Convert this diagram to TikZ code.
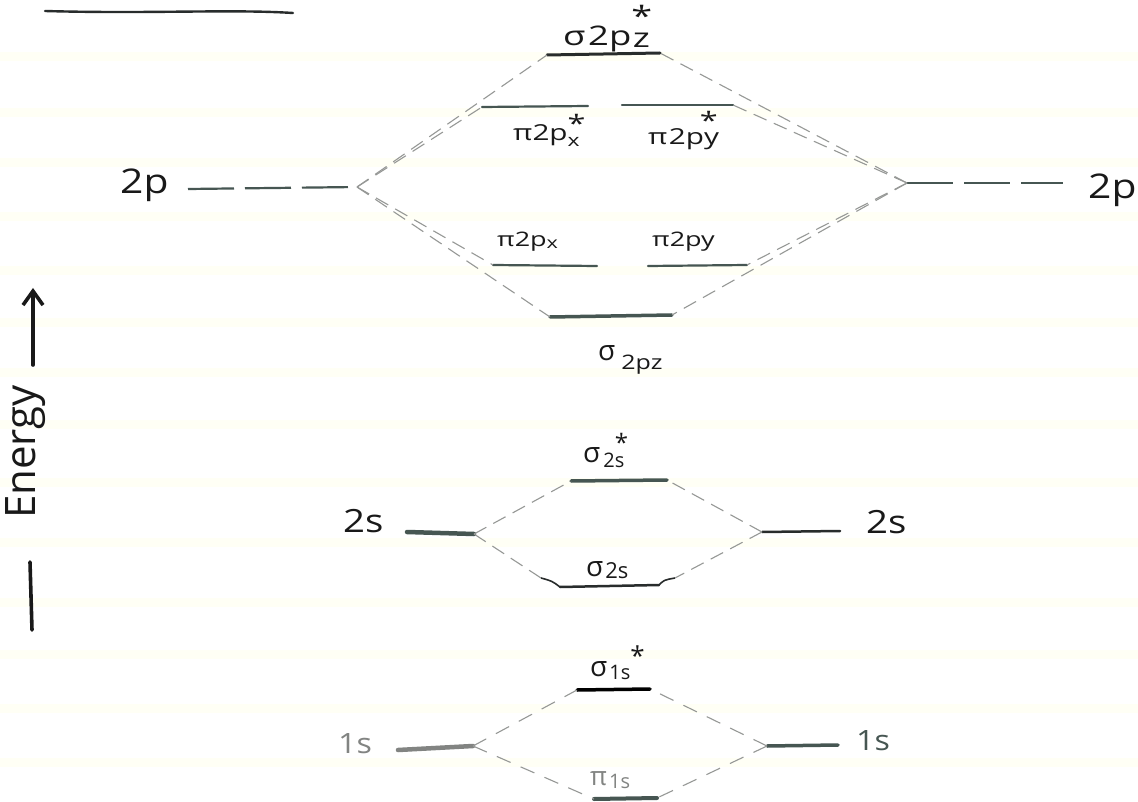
\documentclass[tikz,border=0pt]{standalone}
\usepackage{fontspec}
\setmainfont{Open Sans}
\usetikzlibrary{arrows.meta}
\definecolor{lev}{RGB}{70,86,82}
\definecolor{levdark}{RGB}{40,44,44}
\definecolor{conn}{RGB}{150,152,150}
\definecolor{txt}{RGB}{25,25,25}
\definecolor{txtgray}{RGB}{130,132,130}
\definecolor{band}{RGB}{255,255,245}
\newcommand{\myfs}[1]{\fontsize{#1}{#1}\selectfont}
\newcommand{\wid}[2]{\scalebox{#1}[1]{#2}}
\newcommand{\upstar}[2]{\rlap{\raisebox{#1}{\myfs{#2}*}}}
\begin{document}
\begin{tikzpicture}[x=1pt,y=-1pt,
  level/.style={line width=3pt,color=lev,line cap=round},
  thinlevel/.style={line width=2.2pt,color=lev,line cap=round},
  conn/.style={color=conn,line width=1.1pt,dash pattern=on 14pt off 8pt},
  atomline/.style={line width=2.2pt,color=lev,dash pattern=on 46pt off 11pt},
  lab/.style={inner sep=0pt,text=txt},
  graylab/.style={inner sep=0pt,text=txtgray},
  pen/.style={line width=3.6pt,color=txt,line cap=round},
]
\fill[white] (0,0) rectangle (1138,802);
\useasboundingbox (0,0) rectangle (1138,802);
\foreach \yy in {52,108,158,212,266,318,368,420,478,538,598,650,704,758}
  \fill[band] (0,\yy) rectangle (1138,\yy+9);

% title underline (text cut off above)
\coordinate (tA) at (45,11);
\coordinate (tB) at (293,13);
\draw[line width=2.4pt,color=levdark,line cap=round] (tA) .. controls (150,14) and (230,9) .. (tB);

% ---------- energy axis ----------
\coordinate (ebot) at (33,365);
\coordinate (etop) at (33,288);
\draw[pen,-{Straight Barb[length=14pt,width=20pt,line width=3.6pt]}] (ebot) -- (etop);
\node[lab,rotate=90,font=\myfs{42}] (energy) at (26,452) {Energy};
\coordinate (elA) at (30,562);
\coordinate (elB) at (32,630);
\draw[pen] (elA) -- (elB);

% ---------- 2p block ----------
\coordinate (J2pL) at (357,187);
\coordinate (J2pR) at (907,183);
\coordinate (a2pLs) at (188,189);
\coordinate (a2pRe) at (1063,183);
\node[lab,anchor=base west,font=\myfs{34}] (l2pL) at (120,194) {\wid{1.2}{2p}};
\node[lab,anchor=base west,font=\myfs{34}] (l2pR) at (1088,199) {\wid{1.2}{2p}};
\draw[atomline] (a2pLs) -- (J2pL);
\draw[atomline] (J2pR) -- (a2pRe);

\coordinate (szsL) at (547,55);  \coordinate (szsR) at (660,53);
\coordinate (pxsL) at (482,107); \coordinate (pxsR) at (588,106);
\coordinate (pysL) at (622,105); \coordinate (pysR) at (733,105);
\coordinate (pxL) at (493,265);  \coordinate (pxR) at (597,266);
\coordinate (pyL) at (648,266);  \coordinate (pyR) at (747,265);
\coordinate (szL) at (550,317);  \coordinate (szR) at (672,315);

\draw[level,color=levdark] (szsL) -- (szsR);
\draw[thinlevel] (pxsL) -- (pxsR);
\draw[thinlevel] (pysL) -- (pysR);
\draw[thinlevel] (pxL) -- (pxR);
\draw[thinlevel] (pyL) -- (pyR);
\draw[level,line width=3.5pt] (szL) -- (szR);

\draw[conn] (J2pL) -- (szsL);
\draw[conn] (J2pL) -- (pxsL);
\draw[conn] (J2pL) -- (pxL);
\draw[conn] (J2pL) -- (szL);
\draw[conn] (J2pR) -- (szsR);
\draw[conn] (J2pR) -- (pysR);
\draw[conn] (J2pR) -- (pyR);
\draw[conn] (J2pR) -- (szR);

% labels 2p block
\node[lab,anchor=base west] (lszs) at (563,46)
  {\wid{1.35}{\myfs{27}σ\hspace{2pt}2p\upstar{19pt}{28}\hspace{1pt}\raisebox{-2pt}{z}}};
\node[lab,anchor=base west] (lpxs) at (513,141)
  {\wid{1.35}{\myfs{22}π2p\upstar{8pt}{24}\raisebox{-6pt}{\myfs{17}x}}};
\node[lab,anchor=base west] (lpys) at (648,145)
  {\wid{1.35}{\myfs{22}π\hspace{1pt}2p\hspace{-3pt}\upstar{15pt}{24}\hspace{3pt}y}};
\node[lab,anchor=base west] (lpx) at (497,247)
  {\wid{1.35}{\myfs{20}π2p\raisebox{-2pt}{\myfs{16}x}}};
\node[lab,anchor=base west] (lpy) at (652,247)
  {\wid{1.35}{\myfs{20}π2py}};
\node[lab,anchor=base west] (lsz) at (598,360)
  {\myfs{28}σ\hspace{6pt}\raisebox{-9pt}{\wid{1.25}{\myfs{20}2pz}}};

% ---------- 2s block ----------
\coordinate (a2sLs) at (407,532); \coordinate (J2sL) at (474,534);
\coordinate (J2sR) at (762,532);  \coordinate (a2sRe) at (840,531);
\coordinate (ssL) at (571,481);   \coordinate (ssR) at (667,480);
\coordinate (sL) at (560,587);    \coordinate (sR) at (659,585);
\coordinate (hL) at (541,578);    \coordinate (hR) at (675,578);
\node[lab,anchor=base west,font=\myfs{32}] (l2sL) at (343,532) {\wid{1.2}{2s}};
\node[lab,anchor=base west,font=\myfs{32}] (l2sR) at (866,533) {\wid{1.2}{2s}};
\draw[level,line width=4.5pt] (a2sLs) -- (J2sL);
\draw[level,line width=2.5pt,color=levdark] (J2sR) -- (a2sRe);
\draw[level,line width=3.5pt] (ssL) -- (ssR);
\draw[level,line width=2.5pt,color=levdark] (sL) -- (sR);
\draw[line width=1.6pt,color=levdark] (hL) .. controls (552,581) .. (sL);
\draw[line width=1.6pt,color=levdark] (hR) .. controls (664,580) .. (sR);
\draw[conn] (J2sL) -- (ssL);
\draw[conn] (J2sL) -- (hL);
\draw[conn] (J2sR) -- (ssR);
\draw[conn] (J2sR) -- (hR);
\node[lab,anchor=base west] (lss) at (583,462)
  {\myfs{28}σ\hspace{3pt}\raisebox{-5pt}{\myfs{20}2\upstar{16pt}{24}s}};
\node[lab,anchor=base west] (ls) at (586,576)
  {\myfs{28}σ\hspace{2pt}\raisebox{-2pt}{\myfs{22}2s}};

% ---------- 1s block ----------
\coordinate (a1sLs) at (398,750); \coordinate (J1sL) at (473,746);
\coordinate (J1sR) at (767,746);  \coordinate (a1sRe) at (838,745);
\coordinate (s1ssL) at (577,690); \coordinate (s1ssR) at (650,689);
\coordinate (s1sL) at (594,799);  \coordinate (s1sR) at (657,798);
\node[graylab,anchor=base west,font=\myfs{28}] (l1sL) at (338,753) {\wid{1.15}{1s}};
\node[lab,anchor=base west,font=\myfs{28},text=lev] (l1sR) at (856,750) {\wid{1.15}{1s}};
\draw[level,line width=4.5pt,color=txtgray] (a1sLs) -- (J1sL);
\draw[level,line width=3.5pt] (J1sR) -- (a1sRe);
\draw[level,line width=3.5pt,color=black] (s1ssL) -- (s1ssR);
\draw[level,line width=4pt] (s1sL) -- (s1sR);
\draw[conn,dash pattern=on 15pt off 11pt] (J1sL) -- (s1ssL);
\draw[conn,dash pattern=on 15pt off 11pt] (J1sL) -- (s1sL);
\draw[conn,dash pattern=on 15pt off 11pt] (J1sR) -- (s1ssR);
\draw[conn,dash pattern=on 15pt off 11pt] (J1sR) -- (s1sR);
\node[lab,anchor=base west] (ls1ss) at (590,676)
  {\myfs{28}σ\hspace{2pt}\raisebox{-3pt}{\myfs{20}1s\upstar{14pt}{26}}};
\node[graylab,anchor=base west] (ls1s) at (590,785)
  {\myfs{26}π\hspace{2pt}\raisebox{-3pt}{\myfs{20}1s}};
\end{tikzpicture}
\end{document}
